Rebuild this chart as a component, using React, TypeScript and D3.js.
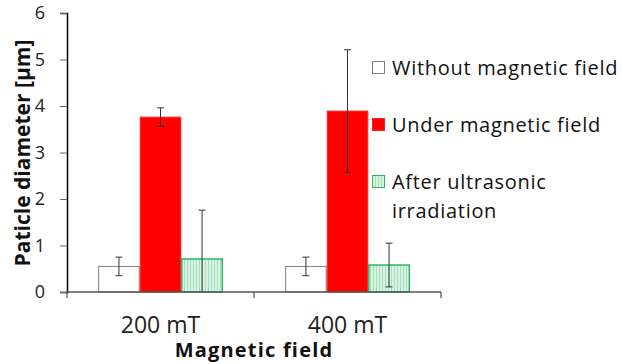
import * as d3 from 'd3'
import { useRef, useEffect } from 'react'

const categories = ['200 mT', '400 mT']
const seriesNames = ['Without magnetic field', 'Under magnetic field', 'After ultrasonic irradiation']
const withoutField = [0.55, 0.55]
const withoutErr = [0.2, 0.2]
const underField = [3.76, 3.89]
const underErr = [0.2, 1.32]
const afterUltra = [0.71, 0.58]
const afterErr = [1.05, 0.47]
const yTicks = [0, 1, 2, 3, 4, 5, 6]

export default function App() {
  const svgRef = useRef<SVGSVGElement>(null)
  const width = 622
  const height = 364

  useEffect(() => {
    const svg = d3.select(svgRef.current)
    svg.selectAll('*').remove()

    const font = '"Open Sans", Lato, sans-serif'
    const margin = { top: 13, right: 181, bottom: 72, left: 67 }
    const innerW = width - margin.left - margin.right
    const innerH = height - margin.top - margin.bottom

    const defs = svg.append('defs')
    const pat = defs.append('pattern')
      .attr('id', 'greenStripes')
      .attr('patternUnits', 'userSpaceOnUse')
      .attr('width', 3).attr('height', 3)
    pat.append('rect').attr('width', 3).attr('height', 3).attr('fill', '#d9f3e3')
    pat.append('rect').attr('width', 1).attr('height', 3).attr('fill', '#a6dfbd')

    const x0 = d3.scaleBand().domain(categories).range([0, innerW]).paddingInner(0).paddingOuter(0)
    const x1 = d3.scaleBand().domain(seriesNames).range([0, x0.bandwidth()]).paddingInner(0).paddingOuter(0.75)
    const y = d3.scaleLinear().domain([0, 6]).range([innerH, 0])

    const g = svg.append('g').attr('transform', `translate(${margin.left},${margin.top})`)

    const styles = [
      { fill: '#ffffff', stroke: '#808080' },
      { fill: '#ff0000', stroke: '#ff2020' },
      { fill: 'url(#greenStripes)', stroke: '#2fb466' },
    ]
    const values = [withoutField, underField, afterUltra]
    const errs = [withoutErr, underErr, afterErr]

    seriesNames.forEach((s, si) => {
      categories.forEach((c, ci) => {
        const v = values[si][ci]
        g.append('rect')
          .attr('x', x0(c)! + x1(s)! + 0.5)
          .attr('y', y(v))
          .attr('width', x1.bandwidth() - 1)
          .attr('height', y(0) - y(v))
          .attr('fill', styles[si].fill)
          .attr('stroke', styles[si].stroke)
          .attr('stroke-width', si === 2 ? 1.5 : 1)
      })
    })

    // error bars
    seriesNames.forEach((s, si) => {
      categories.forEach((c, ci) => {
        const v = values[si][ci]
        const e = errs[si][ci]
        const cx = x0(c)! + x1(s)! + x1.bandwidth() / 2
        const hi = y(v + e)
        const lo = y(Math.max(0, v - e))
        const eg = g.append('g').attr('stroke', '#333').attr('stroke-width', 1)
        eg.append('line').attr('x1', cx).attr('x2', cx).attr('y1', hi).attr('y2', lo)
        eg.append('line').attr('x1', cx - 3.5).attr('x2', cx + 3.5).attr('y1', hi).attr('y2', hi)
        if (v - e > 0) {
          eg.append('line').attr('x1', cx - 3.5).attr('x2', cx + 3.5).attr('y1', lo).attr('y2', lo)
        }
      })
    })

    // y axis
    const yAxis = g.append('g')
      .call(d3.axisLeft(y).tickValues(yTicks).tickSize(7).tickPadding(15).tickFormat(d3.format('d')))
    yAxis.select('.domain').attr('stroke', '#000').attr('stroke-width', 1.5)
    yAxis.selectAll('.tick line').attr('stroke', '#666')
    yAxis.selectAll('.tick text').attr('font-family', font).attr('font-size', 18).attr('fill', '#222')

    // x axis
    const xAxis = g.append('g').attr('transform', `translate(0,${innerH})`)
    xAxis.append('line').attr('x1', 0).attr('x2', innerW).attr('y1', 0).attr('y2', 0)
      .attr('stroke', '#555').attr('stroke-width', 1.5)
    const boundaries = [0, ...categories.map(c => x0(c)! + x0.bandwidth())]
    boundaries.forEach(b => {
      xAxis.append('line').attr('x1', b).attr('x2', b).attr('y1', 0).attr('y2', 6)
        .attr('stroke', '#333').attr('stroke-width', 1)
    })
    categories.forEach(c => {
      xAxis.append('text')
        .attr('x', x0(c)! + x0.bandwidth() / 2)
        .attr('y', 41)
        .attr('text-anchor', 'middle')
        .attr('font-family', font)
        .attr('font-size', 23)
        .attr('fill', '#222')
        .text(c)
    })

    // axis titles
    svg.append('text')
      .attr('x', margin.left + innerW / 2)
      .attr('y', 357)
      .attr('text-anchor', 'middle')
      .attr('font-family', font)
      .attr('font-weight', 'bold')
      .attr('font-size', 20)
      .attr('letter-spacing', 1.2)
      .attr('fill', '#111')
      .text('Magnetic field')

    svg.append('text')
      .attr('transform', `translate(30,${153}) rotate(-90)`)
      .attr('text-anchor', 'middle')
      .attr('font-family', font)
      .attr('font-weight', 'bold')
      .attr('font-size', 21)
      .attr('fill', '#111')
      .text('Paticle diameter [µm]')

    // legend
    const legend = svg.append('g').attr('transform', 'translate(372,0)')
    const rowY = [68, 125, 182]
    const legendLines = [['Without magnetic field'], ['Under magnetic field'], ['After ultrasonic', 'irradiation']]
    seriesNames.forEach((s, si) => {
      legend.append('rect')
        .attr('x', 0.5).attr('y', rowY[si] - 6.5)
        .attr('width', 12).attr('height', 12)
        .attr('fill', styles[si].fill)
        .attr('stroke', styles[si].stroke)
        .attr('stroke-width', 1)
      legendLines[si].forEach((t, li) => {
        legend.append('text')
          .attr('x', 20)
          .attr('y', rowY[si] + li * 29)
          .attr('dy', '0.35em')
          .attr('font-family', font)
          .attr('font-size', 20)
          .attr('letter-spacing', 0.7)
          .attr('fill', '#111')
          .text(t)
      })
    })
  }, [])

  return (
    <svg ref={svgRef} width={width} height={height}
      style={{ position: 'absolute', left: 0, top: 0, background: '#fff' }}>
    </svg>
  )
}
